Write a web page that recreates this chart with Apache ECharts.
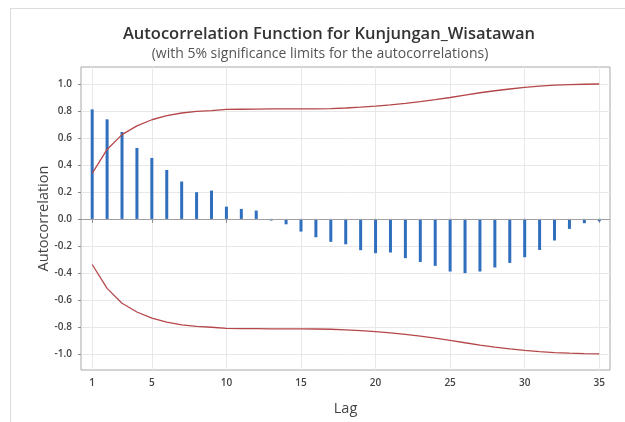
<!DOCTYPE html>
<html>
<head>
<meta charset="utf-8">
<script src="https://cdn.jsdelivr.net/npm/echarts@6/dist/echarts.min.js"></script>
<style>
  html, body { margin: 0; padding: 0; background: #fff; }
  #chart { width: 625px; height: 422px; }
</style>
</head>
<body>
<div id="chart"></div>
<script>
const lags = [1, 2, 3, 4, 5, 6, 7, 8, 9, 10, 11, 12, 13, 14, 15, 16, 17, 18,
  19, 20, 21, 22, 23, 24, 25, 26, 27, 28, 29, 30, 31, 32, 33, 34, 35];

const acf = [0.812, 0.738, 0.644, 0.526, 0.452, 0.363, 0.277, 0.198, 0.21, 0.091,
  0.074, 0.062, -0.012, -0.04, -0.094, -0.136, -0.17, -0.188, -0.232, -0.254,
  -0.249, -0.291, -0.319, -0.348, -0.39, -0.402, -0.39, -0.36, -0.326, -0.284,
  -0.23, -0.16, -0.074, -0.032, -0.017];

const upperLimit = [0.338, 0.515, 0.625, 0.69, 0.735, 0.765, 0.785, 0.797, 0.803, 0.812,
  0.813, 0.814, 0.815, 0.815, 0.815, 0.816, 0.818, 0.822, 0.828, 0.836,
  0.845, 0.856, 0.869, 0.884, 0.9, 0.918, 0.935, 0.95, 0.963, 0.975,
  0.984, 0.991, 0.995, 0.998, 1.0];

const lowerLimit = upperLimit.map((v) => -v);

const xTicks = [1, 5, 10, 15, 20, 25, 30, 35];
const yTicks = [-1, -0.8, -0.6, -0.4, -0.2, 0, 0.2, 0.4, 0.6, 0.8, 1];

const FONT = "'Open Sans', 'Noto Sans', sans-serif";
const BAR_COLOR = "#2f6fbd";
const LIMIT_COLOR = "#b5474a";
const GRID_COLOR = "#e8e8e8";

const chart = echarts.init(document.getElementById("chart"));

const pairs = (ys) => lags.map((x, i) => [x, ys[i]]);

chart.setOption({
  animation: false,
  textStyle: { fontFamily: FONT },
  title: [
    {
      text: "Autocorrelation Function for Kunjungan_Wisatawan",
      left: 324,
      textAlign: "center",
      top: 21,
      textStyle: { fontSize: 16.5, fontWeight: 600, color: "#333", fontFamily: FONT },
    },
    {
      text: "(with 5% significance limits for the autocorrelations)",
      left: 315,
      textAlign: "center",
      top: 42,
      textStyle: { fontSize: 14, fontWeight: "normal", color: "#555", fontFamily: FONT },
    },
  ],
  graphic: [
    { type: "line", shape: { x1: 10.5, y1: 8, x2: 10.5, y2: 422 }, style: { stroke: "#dcdcdc", lineWidth: 1 } },
    { type: "line", shape: { x1: 10, y1: 8.5, x2: 625, y2: 8.5 }, style: { stroke: "#dcdcdc", lineWidth: 1 } },
  ],
  grid: {
    left: 81,
    right: 15,
    top: 67,
    bottom: 52,
    show: true,
    borderColor: "#a8a8a8",
    borderWidth: 1,
    containLabel: false,
    outerBoundsMode: "none",
  },
  xAxis: {
    type: "value",
    min: 0.25,
    max: 35.72,
    name: "Lag",
    nameLocation: "middle",
    nameGap: 31,
    nameMoveOverlap: false,
    nameTextStyle: { fontSize: 14.5, color: "#444", fontFamily: FONT },
    axisLine: { show: false },
    axisTick: { show: true, customValues: xTicks, length: 4, lineStyle: { color: "#888" } },
    axisLabel: {
      customValues: xTicks,
      fontSize: 10,
      fontWeight: 600,
      color: "#444",
      margin: 8,
    },
    splitLine: { show: true, customValues: xTicks, lineStyle: { color: GRID_COLOR } },
  },
  yAxis: {
    type: "value",
    min: -1.12,
    max: 1.126,
    name: "Autocorrelation",
    nameLocation: "middle",
    nameGap: 30,
    nameMoveOverlap: false,
    nameTextStyle: { fontSize: 14.5, color: "#444", fontFamily: FONT },
    axisLine: { show: false },
    axisTick: { show: true, customValues: yTicks, length: 3, lineStyle: { color: "#888" } },
    axisLabel: {
      customValues: yTicks,
      fontSize: 10,
      fontWeight: 600,
      color: "#444",
      margin: 9,
      formatter: (v) => v.toFixed(1),
    },
    splitLine: { show: true, customValues: yTicks, lineStyle: { color: GRID_COLOR } },
  },
  series: [
    {
      type: "bar",
      data: pairs(acf),
      barWidth: 3,
      itemStyle: { color: BAR_COLOR },
      markLine: {
        silent: true,
        symbol: "none",
        label: { show: false },
        lineStyle: { color: "#a0a0a0", type: "solid", width: 1 },
        data: [{ yAxis: 0 }],
      },
      z: 3,
    },
    {
      type: "line",
      data: pairs(upperLimit),
      showSymbol: false,
      lineStyle: { color: LIMIT_COLOR, width: 1.3 },
      z: 4,
    },
    {
      type: "line",
      data: pairs(lowerLimit),
      showSymbol: false,
      lineStyle: { color: LIMIT_COLOR, width: 1.3 },
      z: 4,
    },
  ],
});
</script>
</body>
</html>
